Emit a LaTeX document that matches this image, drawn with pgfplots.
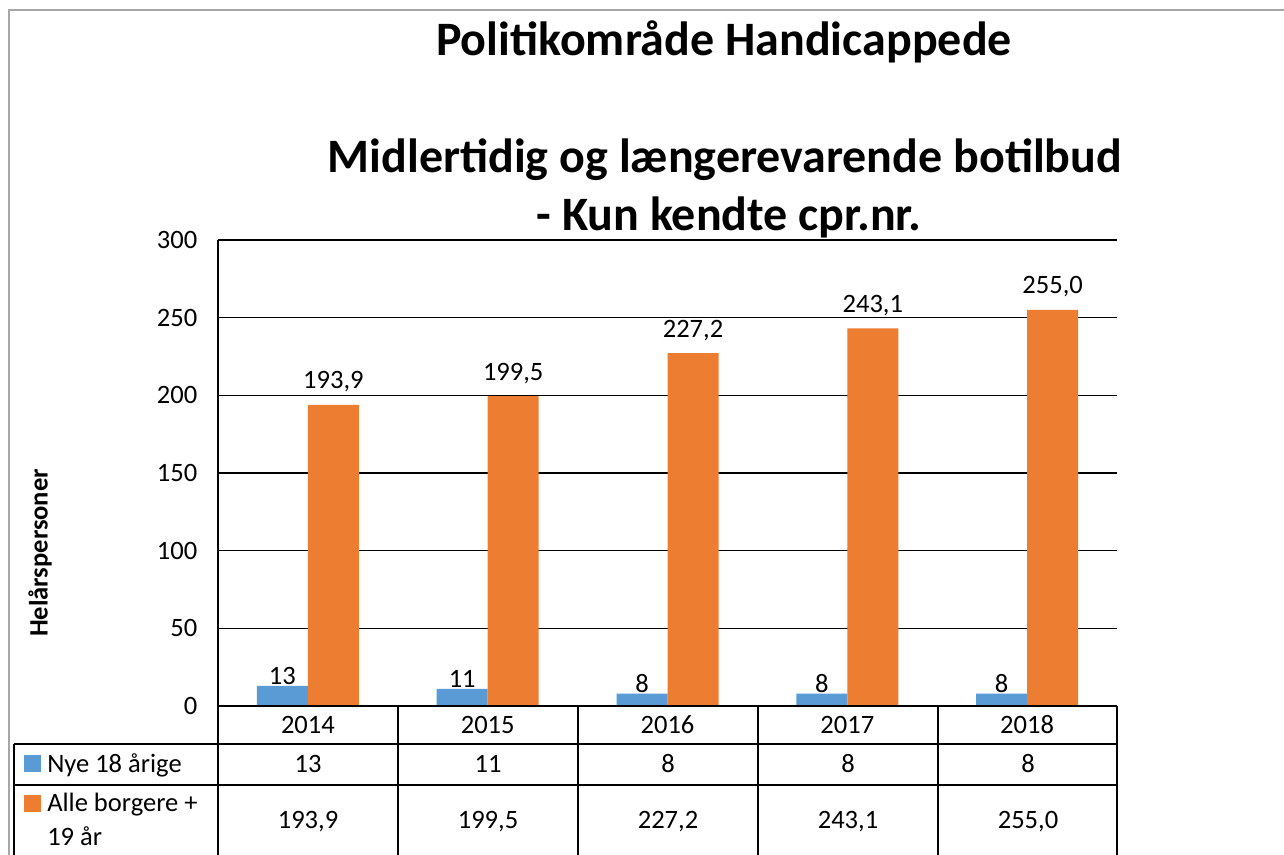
\documentclass[border=0pt]{standalone}
\usepackage{pgfplots}
\pgfplotsset{compat=1.18}
\usepackage{fontspec}
\setmainfont{Carlito}
\definecolor{cblue}{HTML}{5B9BD5}
\definecolor{corange}{HTML}{ED7D31}
\definecolor{frame}{HTML}{A6A6A6}
\newcommand{\px}{0.75pt}
\newcommand{\fs}{\fontsize{19.9}{22}\selectfont}
\begin{document}
\begin{tikzpicture}
\useasboundingbox (0pt,0pt) rectangle (963pt,-641.25pt);
\begin{axis}[
  at={(163.5pt,-529.5pt)}, anchor=south west,
  scale only axis, width=674.25pt, height=349.5pt,
  ybar=0pt, bar width=38.25pt,
  xmin=-0.5, xmax=4.5, ymin=0, ymax=300,
  ytick={0,50,...,300},
  xtick={0,1,2,3,4},
  xticklabels={2014,2015,2016,2017,2018},
  major tick length=0pt,
  axis x line*=bottom, axis y line*=left,
  axis line style={black, line width=1.1pt},
  ymajorgrids, grid style={black, line width=0.8pt},
  /pgf/number format/assume math mode=true,
  /pgf/number format/use comma,
  /pgf/number format/1000 sep={},
  tick label style={font=\fs},
  yticklabel style={xshift=-12pt},
  xticklabel style={anchor=base, yshift=-20.25pt, inner sep=0pt},
  nodes near coords,
  every node near coord/.append style={font=\fs, anchor=base, inner sep=0pt},
  clip=false,
]
\addplot[fill=cblue, draw=none, nodes near coords style={yshift=1pt}] coordinates {(0,13) (1,11) (2,8) (3,8) (4,8)};
\addplot[fill=corange, draw=none,
  nodes near coords style={yshift=12pt, /pgf/number format/fixed, /pgf/number format/fixed zerofill, /pgf/number format/precision=1}]
  coordinates {(0,193.9) (1,199.5) (2,227.2) (3,243.1) (4,255.0)};
\end{axis}
\begin{scope}[x=\px, y=-\px]
  % outer frame
  \draw[frame, line width=1.3pt] (9,860) -- (9,10) -- (1290,10);
  % titles
  \node[font=\fontsize{36}{40}\selectfont\bfseries] at (724,42) {Politikområde Handicappede};
  \node[font=\fontsize{36}{40}\selectfont\bfseries] at (725,160) {Midlertidig og længerevarende botilbud};
  \node[font=\fontsize{36}{40}\selectfont\bfseries] at (729,217) {- Kun kendte cpr.nr.};
  % y label
  \node[font=\fs\bfseries, rotate=90] at (40,553) {Helårspersoner};
  % data table lines
  \begin{scope}[line width=1.1pt]
    \draw (218,706) -- (1117,706);
    \draw (14,744) -- (1117,744);
    \draw (14,785) -- (1117,785);
    \draw (14,744) -- (14,860);
    \foreach \xx in {218,398,578,758,938,1117} \draw (\xx,706) -- (\xx,860);
  \end{scope}
  % legend keys
  \fill[cblue] (24,755) rectangle (41,772);
  \fill[corange] (24,795) rectangle (41,812);
  \begin{scope}[every node/.style={font=\fs, inner sep=0pt}]
    \node[anchor=base west] at (47,772) {Nye 18 årige};
    \node[anchor=base west] at (47,811) {Alle borgere +};
    \node[anchor=base west] at (47,845) {19 år};
    \node[anchor=base] at (308,772) {13};
    \node[anchor=base] at (488,772) {11};
    \node[anchor=base] at (668,772) {8};
    \node[anchor=base] at (848,772) {8};
    \node[anchor=base] at (1028,772) {8};
    \node[anchor=base] at (308,828) {193,9};
    \node[anchor=base] at (488,828) {199,5};
    \node[anchor=base] at (668,828) {227,2};
    \node[anchor=base] at (848,828) {243,1};
    \node[anchor=base] at (1028,828) {255,0};
  \end{scope}
\end{scope}
\end{tikzpicture}
\end{document}
